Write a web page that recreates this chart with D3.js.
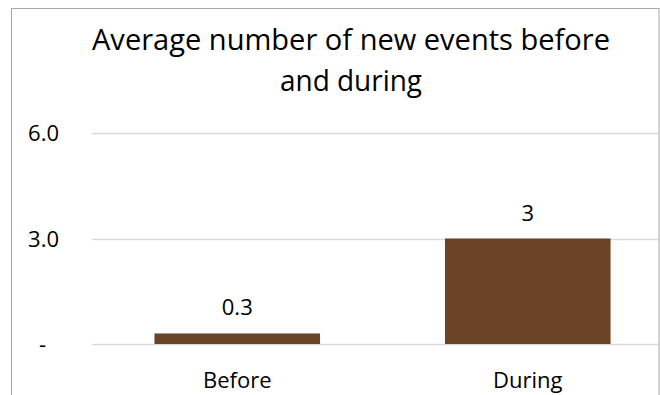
<!DOCTYPE html>
<html>
<head>
<meta charset="utf-8">
<script src="https://cdn.jsdelivr.net/npm/d3@7"></script>
<style>
  html, body { margin: 0; padding: 0; background: #fff; }
  svg { display: block; }
  text { font-family: "Open Sans", "Noto Sans", sans-serif; fill: #000; }
</style>
</head>
<body>
<svg id="chart" width="660" height="395"></svg>
<script>
// Chart data
const categories = ["Before", "During"];
const values = [0.3, 3];
const valueLabels = ["0.3", "3"];
const yTicks = [0, 3, 6];
const yTickLabels = ["-", "3.0", "6.0"];
const titleLines = ["Average number of new events before", "and during"];

const svg = d3.select("#chart");
const FONT = "\"Open Sans\", \"Noto Sans\", sans-serif";

// Outer chart frame (continues below the visible area)
svg.append("rect")
  .attr("x", 11.5).attr("y", 8.5)
  .attr("width", 647.5).attr("height", 420)
  .attr("fill", "#fff")
  .attr("stroke", "#a6a6a6").attr("stroke-width", 1);

const plot = { left: 92, right: 658, top: 133, bottom: 344 };

const x = d3.scaleBand()
  .domain(categories)
  .range([plot.left, plot.left + 581])
  .paddingInner(0.43)
  .paddingOuter(0.215);

const y = d3.scaleLinear()
  .domain([0, 6])
  .range([plot.bottom, plot.top]);

// Title, two centred lines
const titleWidths = [518, 142];
svg.append("g")
  .selectAll("text")
  .data(titleLines)
  .join("text")
  .attr("x", 351)
  .attr("y", (d, i) => 50 + i * 41)
  .attr("text-anchor", "middle")
  .attr("font-size", 29.5)
  .attr("textLength", (d, i) => titleWidths[i])
  .attr("lengthAdjust", "spacingAndGlyphs")
  .text(d => d);

// Gridlines
svg.append("g")
  .selectAll("line")
  .data(yTicks)
  .join("line")
  .attr("x1", plot.left).attr("x2", plot.right)
  .attr("y1", d => Math.round(y(d)) + 0.5)
  .attr("y2", d => Math.round(y(d)) + 0.5)
  .attr("stroke", "#d9d9d9").attr("stroke-width", 1.5);

// Y axis labels
const yAxis = d3.axisLeft(y)
  .tickValues(yTicks)
  .tickFormat((d, i) => yTickLabels[i])
  .tickSize(0)
  .tickPadding(0);
const yg = svg.append("g")
  .attr("transform", "translate(59,0)")
  .call(yAxis);
yg.select(".domain").remove();
yg.selectAll("text")
  .attr("font-size", 22)
  .attr("font-family", FONT)
  .attr("fill", "#000")
  .attr("dy", "0.35em")
  .attr("dx", d => d === 0 ? -13 : 0);

// Bars
svg.append("g")
  .selectAll("rect")
  .data(values)
  .join("rect")
  .attr("x", (d, i) => x(categories[i]))
  .attr("width", x.bandwidth())
  .attr("y", d => y(d))
  .attr("height", d => y(0) - y(d))
  .attr("fill", "#6b4427");

// Value labels above bars
svg.append("g")
  .selectAll("text")
  .data(values)
  .join("text")
  .attr("x", (d, i) => x(categories[i]) + x.bandwidth() / 2)
  .attr("y", d => y(d) - 18)
  .attr("text-anchor", "middle")
  .attr("font-size", 22)
  .text((d, i) => valueLabels[i]);

// Category axis
const xAxis = d3.axisBottom(x).tickSize(0).tickPadding(0);
const xg = svg.append("g")
  .attr("transform", `translate(0,${plot.bottom})`)
  .call(xAxis);
xg.select(".domain").remove();
xg.selectAll("text")
  .attr("font-size", 22)
  .attr("font-family", FONT)
  .attr("fill", "#000")
  .attr("y", 44)
  .attr("dy", 0);
</script>
</body>
</html>
